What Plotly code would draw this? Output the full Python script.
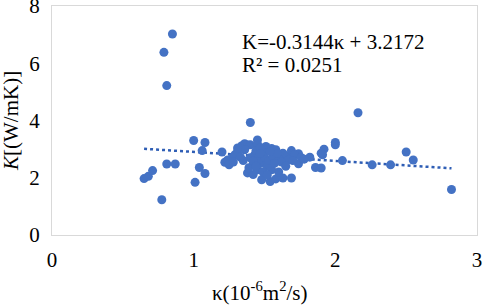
import plotly.graph_objects as go

kappa = [0.85, 0.79, 0.81, 0.65, 0.68, 0.71, 0.775, 0.81, 0.87, 1.00, 1.08, 1.06, 1.04, 1.08, 1.01,
         1.20, 1.40, 2.16, 2.82, 2.50, 2.55, 2.39, 2.26, 2.05, 2.00, 2.00, 1.92, 1.90, 1.91, 1.82,
         1.86, 1.90, 1.74, 1.74,
         1.22, 1.24, 1.27, 1.29, 1.31, 1.33, 1.34, 1.36, 1.38, 1.40, 1.45, 1.45, 1.51, 1.55, 1.58,
         1.63, 1.66, 1.69, 1.71, 1.67, 1.43, 1.48, 1.50, 1.48, 1.36, 1.31, 1.42, 1.45, 1.38, 1.42,
         1.48, 1.54, 1.58, 1.63, 1.69, 1.55, 1.52, 1.46, 1.44, 1.47, 1.50, 1.53, 1.56, 1.60, 1.62,
         1.57, 1.39, 1.35, 1.40, 1.42, 1.25, 1.28, 1.33, 1.44, 1.49, 1.52, 1.60, 1.65, 1.70, 1.76,
         1.78, 1.59, 1.54, 1.47]
K = [7.02, 6.38, 5.22, 1.97, 2.05, 2.25, 1.23, 2.48, 2.48, 3.30, 3.23, 2.95, 2.36, 2.15, 1.84,
     2.90, 3.93, 4.27, 1.59, 2.90, 2.62, 2.45, 2.45, 2.60, 3.23, 3.15, 3.00, 2.86, 2.80, 2.72,
     2.36, 2.34, 2.84, 2.49,
     2.54, 2.62, 2.69, 2.80, 2.92, 3.05, 3.12, 3.19, 3.14, 3.15, 3.32, 3.18, 3.09, 3.02, 2.98,
     2.86, 2.76, 2.95, 2.80, 2.63, 2.80, 2.63, 2.86, 2.51, 2.98, 3.04, 2.46, 2.28, 2.17, 2.11,
     1.93, 1.87, 1.96, 1.99, 1.99, 2.28, 2.40, 2.65, 2.95, 3.05, 2.72, 2.60, 2.75, 2.68, 2.55,
     2.50, 2.35, 2.60, 2.70, 2.58, 2.45, 2.55, 2.72, 2.40, 2.20, 2.10, 2.20, 2.40, 2.60, 2.70,
     2.65, 2.85, 2.92, 2.85]

slope = -0.3144
intercept = 3.2172
r2 = 0.0251

x_ticks = [0, 1, 2, 3]
y_ticks = [0, 2, 4, 6, 8]

x_title = "κ(10<sup>-6</sup>m<sup>2</sup>/s)"
y_title = "<i>K</i>[(W/mK)]"

xmin, xmax = min(kappa), max(kappa)
trend_x = [xmin, xmax]
trend_y = [slope * v + intercept for v in trend_x]

fig = go.Figure()
fig.add_trace(go.Scatter(x=trend_x, y=trend_y, mode="lines",
                         line=dict(color="#2f5eb5", width=2.5, dash="dot"),
                         showlegend=False, hoverinfo="skip"))
fig.add_trace(go.Scatter(x=kappa, y=K, mode="markers",
                         marker=dict(color="#4472C4", size=9, line=dict(width=0)),
                         showlegend=False))

font = "Liberation Serif, Times New Roman, serif"
L, R, T, B = 52, 7, 6, 70
W, H = 484, 305
pw, ph = W - L - R, H - T - B

fig.update_layout(
    width=W, height=H,
    margin=dict(l=L, r=R, t=T, b=B),
    paper_bgcolor="white", plot_bgcolor="white",
    font=dict(family=font, size=21, color="#000000"),
    xaxis=dict(range=[0, 3], tickvals=x_ticks, showgrid=False, zeroline=False,
               showline=True, mirror=True, linecolor="#d9d9d9", linewidth=1,
               ticks="", ticklabelstandoff=6, ticklabeloverflow="allow", automargin=False,
               tickfont=dict(family=font, size=21)),
    yaxis=dict(range=[0, 8], tickvals=y_ticks, showgrid=False, zeroline=False,
               showline=True, mirror=True, linecolor="#d9d9d9", linewidth=1,
               ticks="", ticklabelstandoff=7, ticklabeloverflow="allow",
               automargin=False, tickfont=dict(family=font, size=21)),
)
# axis titles placed as annotations (pixel-matched to the reference)
fig.add_annotation(x=(260 - L) / pw, y=-(291 - (H - B)) / ph, xref="paper", yref="paper",
                   xanchor="center", yanchor="middle", showarrow=False,
                   text=x_title, font=dict(size=21, family=font))
fig.add_annotation(x=-(L - 11) / pw, y=1 - (121 - T) / ph, xref="paper", yref="paper",
                   xanchor="center", yanchor="middle", showarrow=False, textangle=-90,
                   text=y_title, font=dict(size=21, family=font))
fig.add_annotation(x=(240 - L) / pw, y=1 - (42 - T) / ph, xref="paper", yref="paper",
                   xanchor="left", yanchor="middle", showarrow=False,
                   text=f"K={slope}κ + {intercept}", font=dict(size=21, family=font))
fig.add_annotation(x=(240 - L) / pw, y=1 - (65 - T) / ph, xref="paper", yref="paper",
                   xanchor="left", yanchor="middle", showarrow=False,
                   text=f"R² = {r2}", font=dict(size=21, family=font))

fig.write_html("out.html", config={"displayModeBar": False},
               post_script="document.body.style.margin='0';document.body.style.overflow='hidden';")
